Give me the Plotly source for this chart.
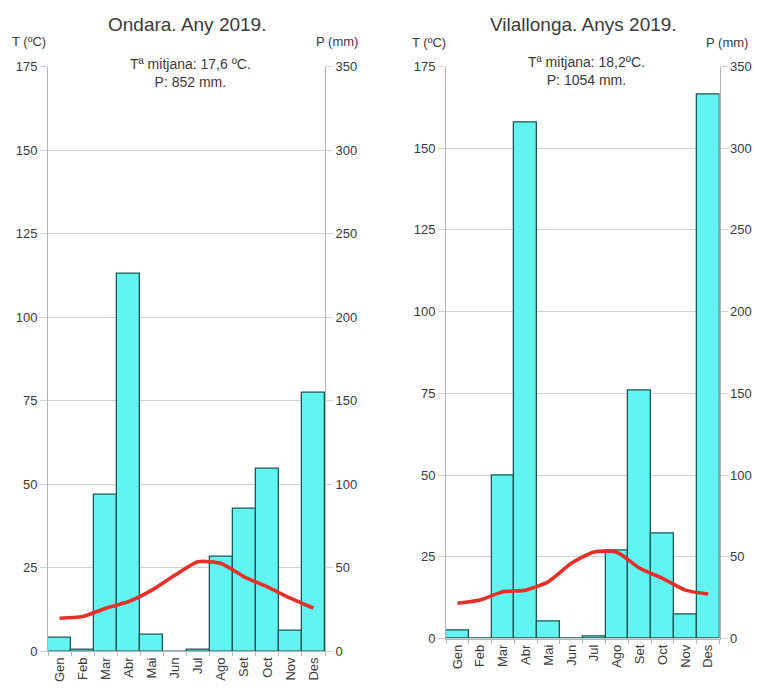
import plotly.graph_objects as go

W, H = 757, 693

months = ['Gen', 'Feb', 'Mar', 'Abr', 'Mai', 'Jun', 'Jul', 'Ago', 'Set', 'Oct', 'Nov', 'Des']

ondara_p = [8, 1, 93.6, 226, 10, 0, 1, 56.5, 85.6, 109.2, 12.5, 154.8]
ondara_t = [9.9, 10.4, 12.9, 14.9, 18.3, 22.8, 26.8, 26.3, 22.3, 19.3, 15.9, 12.9]

vila_p = [4.6, 0, 100, 316, 10.7, 0, 1, 54, 152, 64.3, 14.8, 333]
vila_t = [10.8, 11.8, 14.3, 14.8, 17.4, 23.0, 26.5, 26.4, 21.5, 18.4, 14.8, 13.6]

t_ticks = [0, 25, 50, 75, 100, 125, 150, 175]
p_ticks = [0, 50, 100, 150, 200, 250, 300, 350]

titles = ['Ondara. Any 2019.', 'Vilallonga. Anys 2019.']
infos = ['Tª mitjana: 17,6 ºC.<br>P: 852 mm.', 'Tª mitjana: 18,2ºC.<br>P: 1054 mm.']

FONT = 'Liberation Sans, Arial, sans-serif'
TXT = '#3a3a3a'
BAR_FILL = '#62f4f0'
BAR_LINE = '#1d5656'
LINE_RED = '#e5302a'
GRID = '#d2d2d2'
AXIS = '#b5b5b5'


def px_x(x):
    return x / W


def px_y(y):
    return 1 - y / H


fig = go.Figure()

# chart 1: bars on the precipitation axis (base), temperature line on overlay
fig.add_trace(go.Bar(x=months, y=ondara_p, xaxis='x', yaxis='y', width=1.0,
                     marker=dict(color=BAR_FILL, line=dict(color=BAR_LINE, width=1.3)),
                     showlegend=False))
fig.add_trace(go.Scatter(x=months, y=ondara_t, xaxis='x', yaxis='y2', mode='lines',
                         line=dict(color=LINE_RED, width=3.6, shape='spline', smoothing=0.6),
                         showlegend=False))
# chart 2
fig.add_trace(go.Bar(x=months, y=vila_p, xaxis='x2', yaxis='y3', width=1.0,
                     marker=dict(color=BAR_FILL, line=dict(color=BAR_LINE, width=1.3)),
                     showlegend=False))
fig.add_trace(go.Scatter(x=months, y=vila_t, xaxis='x2', yaxis='y4', mode='lines',
                         line=dict(color=LINE_RED, width=3.6, shape='spline', smoothing=0.6),
                         showlegend=False))

xcommon = dict(type='category', range=[-0.5, 11.5], showgrid=False, showline=True,
               linecolor=AXIS, linewidth=1, ticks='outside', tickson='boundaries',
               ticklen=4, tickcolor=AXIS, tickangle=-90,
               tickfont=dict(family=FONT, size=13, color=TXT), fixedrange=True)
pcommon = dict(range=[0, 350], tickvals=p_ticks, showgrid=True, gridcolor=GRID, gridwidth=1,
               showline=True, linecolor=AXIS, linewidth=1, zeroline=False,
               ticks='outside', ticklen=7, tickcolor=GRID,
               tickfont=dict(family=FONT, size=13, color=TXT), side='right')
tcommon = dict(range=[0, 175], tickvals=t_ticks, showgrid=False,
               showline=True, linecolor=AXIS, linewidth=1, zeroline=False,
               ticks='outside', ticklen=7, tickcolor=GRID,
               tickfont=dict(family=FONT, size=13, color=TXT), side='left')

fig.update_layout(
    width=W, height=H,
    margin=dict(l=0, r=0, t=0, b=0, autoexpand=False),
    paper_bgcolor='white', plot_bgcolor='white',
    bargap=0,
    xaxis=dict(domain=[px_x(48), px_x(325)], anchor='y', **xcommon),
    yaxis=dict(domain=[px_y(651.3), px_y(66.8)], anchor='x', **pcommon),
    yaxis2=dict(overlaying='y', anchor='x', **tcommon),
    xaxis2=dict(domain=[px_x(446), px_x(719.5)], anchor='y3', **xcommon),
    yaxis3=dict(domain=[px_y(638.5), px_y(66.5)], anchor='x2', **pcommon),
    yaxis4=dict(overlaying='y3', anchor='x2', **tcommon),
)

ann = []
for txt, x in zip(titles, [187, 583]):
    ann.append(dict(text=txt, x=px_x(x), y=px_y(25), xref='paper', yref='paper',
                    showarrow=False, xanchor='center', yanchor='middle',
                    font=dict(family=FONT, size=19, color=TXT)))

axis_titles = [('T (ºC)', 29, 41), ('P (mm)', 337, 41), ('T (ºC)', 429, 43), ('P (mm)', 727, 43)]
for txt, x, y in axis_titles:
    ann.append(dict(text=txt, x=px_x(x), y=px_y(y), xref='paper', yref='paper', showarrow=False,
                    xanchor='center', yanchor='middle',
                    font=dict(family=FONT, size=13, color=TXT)))

info_pos = [(190, 72.5), (586, 71)]
for txt, (x, y) in zip(infos, info_pos):
    ann.append(dict(text=txt, x=px_x(x), y=px_y(y), xref='paper', yref='paper', showarrow=False,
                    xanchor='center', yanchor='middle', bgcolor='white', borderpad=3,
                    font=dict(family=FONT, size=14, color=TXT)))

fig.update_layout(annotations=ann)

fig.write_html('out.html', config={'displayModeBar': False},
               post_script="document.body.style.margin='0';document.body.style.overflow='hidden';")
